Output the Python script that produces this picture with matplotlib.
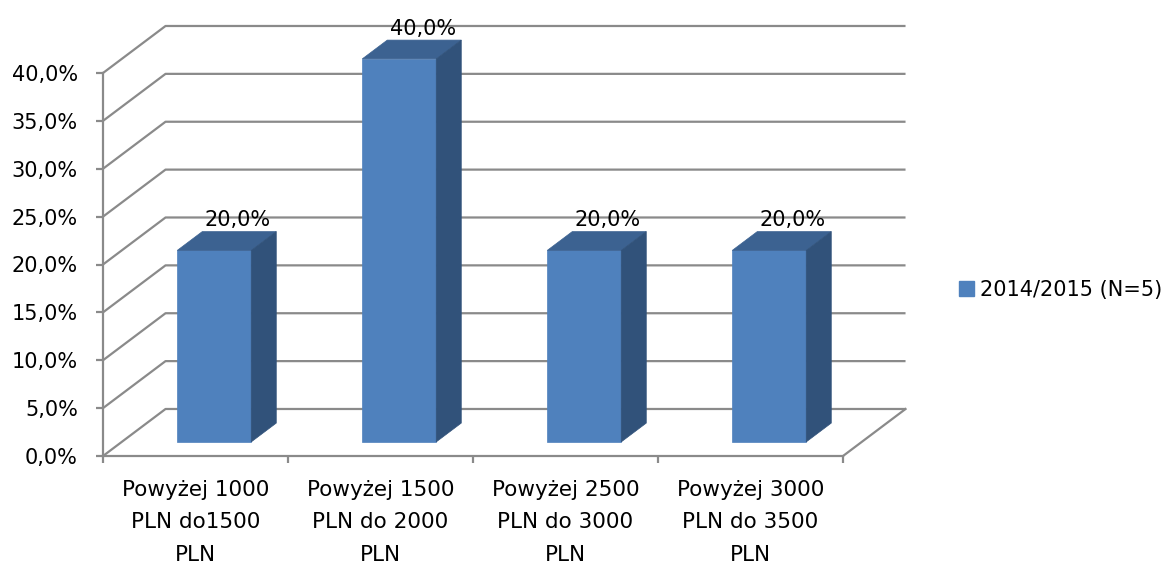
import matplotlib
matplotlib.use("Agg")
import matplotlib.pyplot as plt
from matplotlib.patches import Polygon, Patch
from matplotlib.ticker import FixedLocator, NullFormatter

# ---- data ----
categories = [
    "Powyżej 1000\nPLN do1500\nPLN",
    "Powyżej 1500\nPLN do 2000\nPLN",
    "Powyżej 2500\nPLN do 3000\nPLN",
    "Powyżej 3000\nPLN do 3500\nPLN",
]
values = [20.0, 40.0, 20.0, 20.0]
series_name = "2014/2015 (N=5)"
y_ticks = [0, 5, 10, 15, 20, 25, 30, 35, 40]
y_tick_labels = ["0,0%", "5,0%", "10,0%", "15,0%", "20,0%", "25,0%", "30,0%", "35,0%", "40,0%"]

# ---- style / projection ----
FRONT = "#4F81BD"
TOP = "#3C6291"
SIDE = "#31527A"
GRID = "#8A8A8A"
DX = 0.338   # oblique depth offset in category units
DY = 4.91    # oblique depth offset in percent units
BAR_W = 0.4
D0, D1 = 0.3, 0.7
FS = 15
XFS = 15.5

plt.rcParams['font.family'] = ['DejaVu Sans']

W, H = 1167, 565
fig = plt.figure(figsize=(W / 100, H / 100), dpi=100)
ax = fig.add_axes([103 / W, (H - 456) / H, 740 / W, 383 / H])
n = len(categories)
ax.set_xlim(0, n)
ax.set_ylim(0, 40)
ax.patch.set_alpha(0)

# floor and walls gridlines
ax.plot([n, n + DX], [0, DY], color=GRID, lw=1.6, clip_on=False, zorder=1)
for v in y_ticks:
    ax.plot([0, DX, n + DX], [v, v + DY, v + DY], color=GRID, lw=1.6,
            clip_on=False, zorder=1, solid_capstyle='butt')

# bars
for i, v in enumerate(values):
    x0 = i + 0.5 - BAR_W / 2
    x1 = i + 0.5 + BAR_W / 2
    fx0, fx1 = x0 + D0 * DX, x1 + D0 * DX
    fy0 = D0 * DY
    bx0, bx1 = x0 + D1 * DX, x1 + D1 * DX
    by0 = D1 * DY
    front = Polygon([(fx0, fy0), (fx1, fy0), (fx1, fy0 + v), (fx0, fy0 + v)],
                    closed=True, facecolor=FRONT, edgecolor=FRONT, lw=0.5,
                    clip_on=False, zorder=3)
    top = Polygon([(fx0, fy0 + v), (fx1, fy0 + v), (bx1, by0 + v), (bx0, by0 + v)],
                  closed=True, facecolor=TOP, edgecolor=TOP, lw=0.5,
                  clip_on=False, zorder=3)
    side = Polygon([(fx1, fy0), (bx1, by0), (bx1, by0 + v), (fx1, fy0 + v)],
                   closed=True, facecolor=SIDE, edgecolor=SIDE, lw=0.5,
                   clip_on=False, zorder=3)
    for p in (front, top, side):
        ax.add_patch(p)
    ax.text(i + 0.5 + 0.23, v + 4.0, f"{v:.1f}%".replace(".", ","),
            ha="center", va="baseline", fontsize=FS, color="black",
            clip_on=False, zorder=4)

# axes
for s in ("top", "right"):
    ax.spines[s].set_visible(False)
for s in ("left", "bottom"):
    ax.spines[s].set_color(GRID)
    ax.spines[s].set_linewidth(1.6)
    ax.spines[s].set_zorder(2)

ax.set_yticks(y_ticks)
ax.set_yticklabels(y_tick_labels, fontsize=FS)
ax.tick_params(axis="y", direction="out", length=5, width=1.6, color=GRID, pad=13)

ax.xaxis.set_major_locator(FixedLocator(list(range(n + 1))))
ax.xaxis.set_major_formatter(NullFormatter())
ax.xaxis.set_minor_locator(FixedLocator([i + 0.5 for i in range(n)]))
ax.set_xticklabels(categories, minor=True, fontsize=XFS, linespacing=1.79)
ax.tick_params(axis="x", which="major", direction="out", length=5, width=1.6, color=GRID)
ax.tick_params(axis="x", which="minor", length=0, pad=17)

# legend
handle = Patch(facecolor=FRONT, edgecolor=FRONT)
fig.legend([handle], [series_name], loc="center left",
           bbox_to_anchor=(959 / W, 1 - 290 / H), frameon=False, fontsize=FS,
           borderpad=0, borderaxespad=0, handlelength=0.7, handleheight=0.7,
           handletextpad=0.33)

fig.savefig("out.png", dpi=100)
